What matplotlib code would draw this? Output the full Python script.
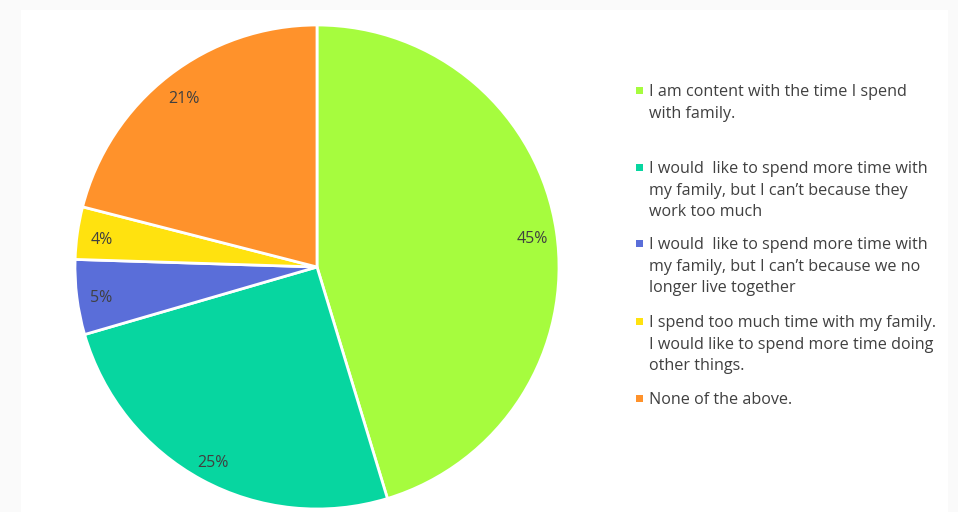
import matplotlib
matplotlib.use("Agg")
import matplotlib.pyplot as plt
from matplotlib.patches import Rectangle

plt.rcParams["font.family"] = ["Open Sans", "DejaVu Sans"]

# ---- data ----
labels = [
    "I am content with the time I spend\nwith family.",
    "I would  like to spend more time with\nmy family, but I can\u2019t because they\nwork too much",
    "I would  like to spend more time with\nmy family, but I can\u2019t because we no\nlonger live together",
    "I spend too much time with my family.\nI would like to spend more time doing\nother things.",
    "None of the above.",
]
shares = [45.3, 25.2, 5.0, 3.5, 21.0]
pct_labels = ["45%", "25%", "5%", "4%", "21%"]
colors = ["#A6FC3E", "#07D6A0", "#5A6ED9", "#FFE20F", "#FF922B"]

# legend layout (centre of first line of each entry, pixels from top)
legend_top = [90, 167, 243, 321, 398]

W, H = 958, 512
fig = plt.figure(figsize=(W / 100, H / 100), dpi=100, facecolor="#FAFAFA")
fig.patches.append(Rectangle((21 / W, 0), (948 - 21) / W, (H - 10) / H,
                             transform=fig.transFigure, facecolor="white",
                             edgecolor="none", zorder=-5))

# pie: centre (317, 267) px, radius 242 px
cx, cy, R = 317, 267, 242
ax = fig.add_axes([(cx - R) / W, (H - cy - R) / H, 2 * R / W, 2 * R / H])
ax.set_facecolor("none")
wedges, texts = ax.pie(shares, colors=colors, startangle=90, counterclock=False,
                       labels=pct_labels, labeldistance=0.9,
                       wedgeprops=dict(edgecolor="white", linewidth=2),
                       textprops=dict(color="#404040", fontsize=11.5))
for t in texts:
    t.set_ha("center"); t.set_va("center")
    x, y = t.get_position()
    t.set_position((x, y - 4 / R))  # nudge down ~4 px
for w in wedges:
    w.set_clip_on(False)
ax.set_xlim(-1, 1); ax.set_ylim(-1, 1)
ax.set_aspect("equal")

# legend drawn by hand to keep the uneven spacing of the original
for lab, col, top in zip(labels, colors, legend_top):
    fig.patches.append(Rectangle((636 / W, 1 - (top + 4) / H), 7 / W, 7 / H,
                                 transform=fig.transFigure, facecolor=col,
                                 edgecolor="none"))
    fig.text(649 / W, 1 - (top - 6) / H, lab, ha="left", va="top",
             fontsize=11.6, color="#404040", linespacing=1.46)

fig.savefig("out.png", dpi=100, facecolor=fig.get_facecolor())
